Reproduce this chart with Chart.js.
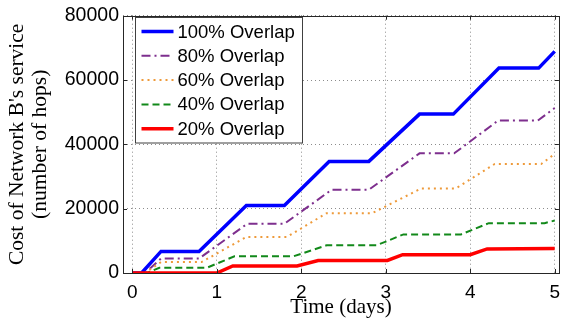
<!DOCTYPE html>
<html>
<head>
<meta charset="utf-8">
<script src="https://cdn.jsdelivr.net/npm/chart.js@4/dist/chart.umd.min.js"></script>
<style>
  html, body { margin: 0; padding: 0; background: #fff; }
  #wrap { width: 568px; height: 324px; position: relative; }
</style>
</head>
<body>
<div id="wrap"><canvas id="chart"></canvas></div>
<script>
// ---- data (time in days, cost in hops) ----
const seriesLabels = ['100% Overlap', '80% Overlap', '60% Overlap', '40% Overlap', '20% Overlap'];

const days100 = [0, 0.11, 0.34, 0.79, 1.35, 1.80, 2.33, 2.80, 3.40, 3.80, 4.34, 4.81, 5.0];
const hops100 = [0, 0, 6700, 6700, 21000, 21000, 34700, 34700, 49400, 49400, 63700, 63700, 68900];

const days80 = [0, 0.15, 0.34, 0.79, 1.36, 1.80, 2.36, 2.80, 3.40, 3.81, 4.33, 4.80, 5.0];
const hops80 = [0, 0, 4500, 4500, 15300, 15300, 25900, 25900, 37200, 37200, 47400, 47400, 51300];

const days60 = [0, 0.15, 0.34, 0.82, 1.35, 1.83, 2.30, 2.84, 3.42, 3.83, 4.29, 4.84, 5.0];
const hops60 = [0, 0, 3400, 3400, 11200, 11200, 18600, 18600, 26300, 26300, 33900, 33900, 37000];

const days40 = [0, 0.17, 0.32, 0.88, 1.21, 1.91, 2.30, 2.89, 3.21, 3.89, 4.22, 4.88, 5.0];
const hops40 = [0, 0, 1600, 1600, 5200, 5200, 8600, 8600, 12000, 12000, 15500, 15500, 16300];

const days20 = [0, 1.0, 1.19, 1.95, 2.20, 3.02, 3.20, 4.0, 4.20, 5.0];
const hops20 = [0, 0, 2200, 2200, 3900, 3900, 5700, 5700, 7500, 7600];

const xTicks = [0, 1, 2, 3, 4, 5];
const yTicks = [0, 20000, 40000, 60000, 80000];

const pts = (xs, ys) => xs.map((x, i) => ({ x: x, y: ys[i] }));

Chart.defaults.font.family = '"Liberation Sans", Arial, sans-serif';
Chart.defaults.color = '#000';

// axes box + inward tick marks, like the matlab frame
const framePlugin = {
  id: 'frame',
  afterDatasetsDraw(chart) {
    const { ctx, chartArea: a, scales } = chart;
    ctx.save();
    ctx.strokeStyle = '#262626';
    ctx.lineWidth = 1;
    ctx.setLineDash([]);
    ctx.strokeRect(Math.round(a.left) + 0.5, Math.round(a.top) + 0.5,
      Math.round(a.right - a.left), Math.round(a.bottom - a.top));
    ctx.beginPath();
    xTicks.forEach(v => {
      const px = Math.round(scales.x.getPixelForValue(v)) + 0.5;
      ctx.moveTo(px, a.bottom); ctx.lineTo(px, a.bottom - 4);
      ctx.moveTo(px, a.top); ctx.lineTo(px, a.top + 4);
    });
    yTicks.forEach(v => {
      const py = Math.round(scales.y.getPixelForValue(v)) + 0.5;
      ctx.moveTo(a.left, py); ctx.lineTo(a.left + 4, py);
      ctx.moveTo(a.right, py); ctx.lineTo(a.right - 4, py);
    });
    ctx.stroke();
    ctx.restore();
  }
};

// boxed legend in the upper-left corner of the plot
const boxLegend = {
  id: 'boxLegend',
  afterDraw(chart) {
    const { ctx } = chart;
    const x0 = 135.5, y0 = 17.5, w = 167, h = 125.5, row = 24.3;
    ctx.save();
    ctx.fillStyle = '#fff';
    ctx.fillRect(x0, y0, w, h);
    ctx.strokeStyle = '#404040';
    ctx.lineWidth = 1;
    ctx.strokeRect(x0, y0, w, h);
    ctx.font = '18.5px "Liberation Sans", Arial, sans-serif';
    ctx.textBaseline = 'middle';
    chart.data.datasets.forEach((ds, i) => {
      const cy = y0 + 14 + i * row;
      ctx.beginPath();
      ctx.strokeStyle = ds.borderColor;
      ctx.lineWidth = ds.borderWidth;
      ctx.setLineDash(ds.borderDash || []);
      ctx.moveTo(x0 + 6, cy);
      ctx.lineTo(x0 + 38, cy);
      ctx.stroke();
      ctx.setLineDash([]);
      ctx.fillStyle = '#000';
      ctx.fillText(ds.label, x0 + 42, cy + 1);
    });
    ctx.restore();
  }
};

new Chart(document.getElementById('chart'), {
  type: 'line',
  data: {
    datasets: [
      { label: seriesLabels[0], data: pts(days100, hops100), borderColor: '#0000ff', borderWidth: 3.5, order: 4 },
      { label: seriesLabels[1], data: pts(days80, hops80), borderColor: '#7e2f8e', borderWidth: 2, borderDash: [9, 4, 2, 4], order: 3 },
      { label: seriesLabels[2], data: pts(days60, hops60), borderColor: '#ee9a3a', borderWidth: 2, borderDash: [2, 4], order: 2 },
      { label: seriesLabels[3], data: pts(days40, hops40), borderColor: '#12891a', borderWidth: 2, borderDash: [7, 4], order: 1 },
      { label: seriesLabels[4], data: pts(days20, hops20), borderColor: '#ff0000', borderWidth: 3.5, order: 0 }
    ]
  },
  options: {
    responsive: true,
    maintainAspectRatio: false,
    animation: false,
    layout: { padding: { top: 14, right: 1, left: 0, bottom: 0 } },
    elements: { point: { radius: 0 }, line: { tension: 0, fill: false } },
    plugins: { legend: { display: false }, tooltip: { enabled: false } },
    scales: {
      x: {
        type: 'linear',
        min: -0.11,
        max: 5.05,
        afterBuildTicks: s => { s.ticks = xTicks.map(v => ({ value: v })); },
        afterFit: s => { s.height = 51; },
        ticks: { font: { size: 19 }, padding: 8, maxRotation: 0, callback: v => String(v) },
        grid: { color: '#8c8c8c', lineWidth: 1, drawTicks: false },
        border: { display: false, dash: [1, 3] },
        title: {
          display: true,
          text: 'Time (days)',
          font: { family: '"Liberation Serif", "Times New Roman", serif', size: 21 },
          padding: { top: 0, bottom: 4 }
        }
      },
      y: {
        min: 0,
        max: 80000,
        afterBuildTicks: s => { s.ticks = yTicks.map(v => ({ value: v })); },
        afterFit: s => { s.width = 123; },
        ticks: { font: { size: 19.5 }, padding: 4, callback: v => String(v) },
        grid: { color: '#8c8c8c', lineWidth: 1, drawTicks: false },
        border: { display: false, dash: [1, 3] },
        title: {
          display: true,
          text: ["Cost of Network B's service", '(number of hops)'],
          font: { family: '"Liberation Serif", "Times New Roman", serif', size: 21.5, lineHeight: 1.05 },
          padding: { top: 6, bottom: 0 }
        }
      }
    }
  },
  plugins: [framePlugin, boxLegend]
});
</script>
</body>
</html>
